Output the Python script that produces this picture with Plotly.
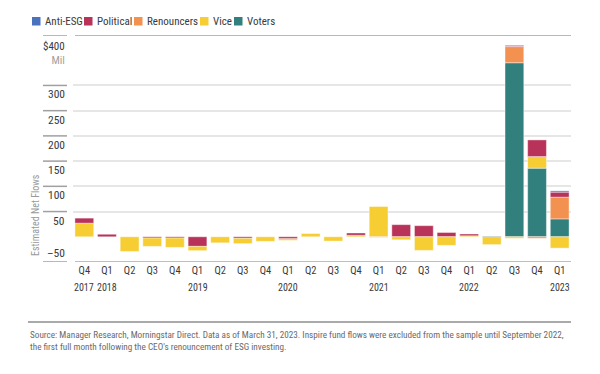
import plotly.graph_objects as go

# ---------------- data ----------------
categories = [
    "Q4 2017", "Q1 2018", "Q2 2018", "Q3 2018", "Q4 2018",
    "Q1 2019", "Q2 2019", "Q3 2019", "Q4 2019",
    "Q1 2020", "Q2 2020", "Q3 2020", "Q4 2020",
    "Q1 2021", "Q2 2021", "Q3 2021", "Q4 2021",
    "Q1 2022", "Q2 2022", "Q3 2022", "Q4 2022",
    "Q1 2023",
]
quarter_labels = ["Q4", "Q1", "Q2", "Q3", "Q4", "Q1", "Q2", "Q3", "Q4", "Q1", "Q2",
                  "Q3", "Q4", "Q1", "Q2", "Q3", "Q4", "Q1", "Q2", "Q3", "Q4", "Q1"]
year_labels = ["2017", "2018", "", "", "", "2019", "", "", "", "2020", "", "",
               "", "2021", "", "", "", "2022", "", "", "", "2023"]

anti_esg = [0, 0, 0, 0, 0, 0, 0, 0, 0, 0, 0, 0, 0, 0, 0, 0, 0, 0, 1.5, 1.5, 0, 2.5]
political = [10, 5, 0, -2.5, -2.5, -19, 0, -3, 0, -4, 0, 0, 4.5, 0, 24, 22, 8.5, 3.5, 0, 1.5, 33, 10]
renouncers = [0, 0, 0, 0, 0, 0, 0, 0, 0, 0, 0, 0, 0, -1, 0, 0, 0, 0, 0, 32, -3, 43]
vice = [27, 0, -29, -16.5, -18.5, -8.5, -12, -10.5, -9, -3, 6.5, -8.5, 3, 60, -6, -27, -17, 2, -15.5, -3, 23, -22.5]
voters = [0, 0, 0, 0, 0, 0, 0, 0, 0, 0, 0, 0, 0, 0, 0, 0, 0, 0, 0, 345, 136, 35.5]

series_names = ["Anti-ESG", "Political", "Renouncers", "Vice", "Voters"]
series_values = [anti_esg, political, renouncers, vice, voters]
series_colors = ["#4A72BF", "#B8325A", "#F39150", "#F6CD33", "#31807E"]

ytick_values = [400, 300, 250, 200, 150, 100, 50, -50]
ytick_labels = ["$400", "300", "250", "200", "150", "100", "50", "\u201350"]
y_unit_label = "Mil"

source_text = ("Source: Manager Research, Morningstar Direct. Data as of March 31, 2023. Inspire fund flows were "
               "excluded from the sample until September 2022,<br>the first full month following the CEO's "
               "renouncement of ESG investing.")

# ---------------- geometry helpers ----------------
# the page body adds an 8px margin, so the figure is placed at (8, 8) of the window
OFF = 8
W, H = 600 - OFF, 374 - OFF
PLOT_L, PLOT_R, PLOT_T, PLOT_B = 73, 571, 35, 262   # window pixels of the plot area
L, R, T, B = PLOT_L - OFF, 600 - PLOT_R, PLOT_T - OFF, 374 - PLOT_B
PW = PLOT_R - PLOT_L
PH = PLOT_B - PLOT_T
FONT = "Roboto Condensed, Roboto, Liberation Sans, sans-serif"


def px2x(px):
    return (px - PLOT_L) / PW


def py2y(py):
    return (PLOT_B - py) / PH


lookup = {n: (v, c) for n, v, c in zip(series_names, series_values, series_colors)}

fig = go.Figure()
# positive parts stack upward: Voters at the bottom ... Anti-ESG on top
for name in ["Voters", "Vice", "Renouncers", "Political", "Anti-ESG"]:
    vals, color = lookup[name]
    fig.add_bar(x=categories, y=[v if v > 0 else None for v in vals], name=name,
                marker=dict(color=color, line=dict(width=0.6, color="rgba(255,255,255,0.7)")),
                showlegend=False, legendgroup=name)
# negative parts stack downward in legend order
for name in series_names:
    vals, color = lookup[name]
    fig.add_bar(x=categories, y=[v if v < 0 else None for v in vals], name=name,
                marker=dict(color=color, line=dict(width=0.6, color="rgba(255,255,255,0.7)")),
                showlegend=False, legendgroup=name)

shapes = []
annotations = []

# top and bottom lines of the plot
shapes.append(dict(type="line", xref="paper", yref="y", x0=px2x(75), x1=1, y0=400, y1=400,
                   line=dict(color="#b8b8b8", width=2)))
shapes.append(dict(type="line", xref="paper", yref="y", x0=px2x(75), x1=1, y0=-50, y1=-50,
                   line=dict(color="#a8a8a8", width=1.5)))

# short lines + labels in the axis column
for v, lab in zip(ytick_values, ytick_labels):
    shapes.append(dict(type="line", xref="paper", yref="y", x0=px2x(43), x1=px2x(67), y0=v, y1=v,
                       line=dict(color="#a0a0a0", width=1.5)))
    if v == ytick_values[0]:
        text = f'{lab}<br><span style="color:#a0a0a0">{y_unit_label}</span>'
        annotations.append(dict(xref="paper", yref="y", x=px2x(67), y=v, yshift=-3, text=text,
                                showarrow=False, xanchor="right", yanchor="top", align="right",
                                font=dict(family=FONT, size=11, color="#3a3a3a")))
        continue
    shift = 9 if v < 0 else -9
    annotations.append(dict(xref="paper", yref="y", x=px2x(67), y=v, yshift=shift, text=lab,
                            showarrow=False, xanchor="right", yanchor="middle",
                            font=dict(family=FONT, size=11.5, color="#3a3a3a")))

# year labels under the quarter labels
for cat, yr in zip(categories, year_labels):
    if yr:
        annotations.append(dict(xref="x", yref="paper", x=cat, y=py2y(287), text=yr,
                                showarrow=False, xanchor="center", yanchor="middle",
                                font=dict(family=FONT, size=10, color="#3a3a3a")))

# y-axis title
annotations.append(dict(xref="paper", yref="paper", x=px2x(35), y=py2y(215), text="Estimated Net Flows",
                        textangle=-90, showarrow=False, xanchor="center", yanchor="middle",
                        font=dict(family=FONT, size=10, color="#9a9a9a")))

# legend (manual, compact)
legend_sq = [32, 84, 134, 200, 234]
for name, color, sx in zip(series_names, series_colors, legend_sq):
    shapes.append(dict(type="rect", xref="paper", yref="paper", x0=px2x(sx), x1=px2x(sx + 8.5),
                       y0=py2y(25.5), y1=py2y(17), fillcolor=color, line=dict(width=0)))
    annotations.append(dict(xref="paper", yref="paper", x=px2x(sx + 10.5), y=py2y(21.5), text=name,
                            showarrow=False, xanchor="left", yanchor="middle",
                            font=dict(family=FONT, size=11, color="#3a3a3a")))

# source separator and note
shapes.append(dict(type="line", xref="paper", yref="paper", x0=px2x(28), x1=px2x(571),
                   y0=py2y(322), y1=py2y(322), line=dict(color="#555555", width=1)))
annotations.append(dict(xref="paper", yref="paper", x=px2x(28), y=py2y(327), text=source_text,
                        showarrow=False, xanchor="left", yanchor="top", align="left",
                        font=dict(family=FONT, size=9.2, color="#6a6a6a")))

fig.update_layout(
    template="none",
    width=W, height=H,
    margin=dict(l=L, r=R, t=T, b=B, pad=0, autoexpand=False),
    barmode="relative",
    bargap=0.17,
    plot_bgcolor="white",
    paper_bgcolor="white",
    showlegend=False,
    shapes=shapes,
    annotations=annotations,
    font=dict(family=FONT, size=11, color="#3a3a3a"),
    xaxis=dict(type="category", tickvals=categories, ticktext=quarter_labels,
               ticks="", showline=False, showgrid=False, zeroline=False, automargin=False,
               tickangle=0,
               tickfont=dict(family=FONT, size=10.5, color="#3a3a3a"),
               range=[-0.5, len(categories) - 0.5]),
    yaxis=dict(range=[-50, 400], tickvals=[50, 100, 150, 200, 250, 300], automargin=False,
               showticklabels=False, showgrid=True, gridcolor="#e6e6e6", gridwidth=1.5,
               zeroline=False, showline=False, ticks=""),
)

fig.write_html("out.html")
